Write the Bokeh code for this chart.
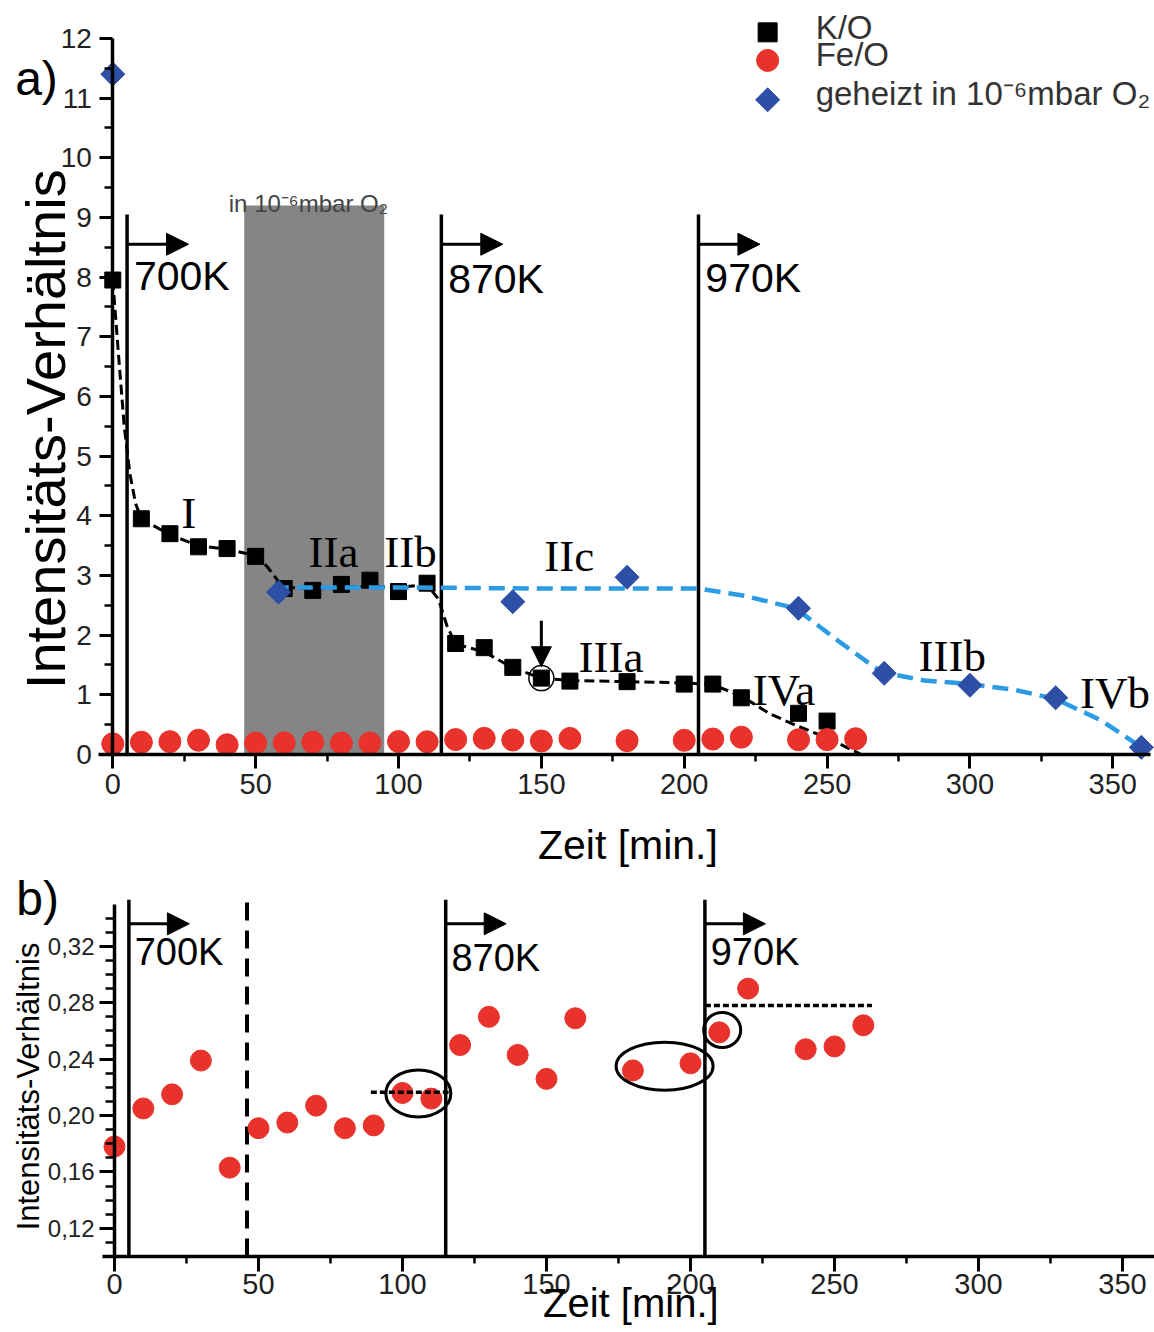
import math
from bokeh.plotting import figure
from bokeh.models import Range1d, FixedTicker, Label, Arrow, NormalHead
from bokeh.layouts import column
from bokeh.embed import file_html
from bokeh.resources import INLINE

# ---------------- data ----------------
time_min = [0, 10, 20, 30, 40, 50, 60, 70, 80, 90, 100, 110, 120, 130, 140,
            150, 160, 180, 200, 210, 220, 240, 250, 260]
fe_o = [0.178, 0.205, 0.215, 0.239, 0.163, 0.191, 0.195, 0.207, 0.191, 0.193,
        0.216, 0.212, 0.250, 0.270, 0.243, 0.226, 0.269, 0.232, 0.237, 0.259,
        0.290, 0.247, 0.249, 0.264]

ko_time = [0, 10, 20, 30, 40, 50, 60, 70, 80, 90, 100, 110, 120, 130, 140,
           150, 160, 180, 200, 210, 220, 240, 250]
ko_ratio = [7.95, 3.95, 3.70, 3.48, 3.45, 3.32, 2.78, 2.75, 2.85, 2.92, 2.73,
            2.87, 1.86, 1.79, 1.46, 1.28, 1.23, 1.22, 1.18, 1.18, 0.95, 0.69, 0.56]

o2_time = [0, 58, 140, 180, 240, 270, 300, 330, 360]
o2_ratio = [11.4, 2.72, 2.56, 2.97, 2.45, 1.36, 1.16, 0.95, 0.12]

ko_fit_time = [0, 2, 4, 6, 8, 10, 20, 30, 40, 50, 54, 58, 62, 70, 80, 90, 100,
               110, 114, 117, 120, 130, 140, 150, 160, 180, 200, 210, 220, 230,
               240, 250, 262]
ko_fit = [7.95, 6.7, 5.5, 4.7, 4.2, 3.95, 3.68, 3.5, 3.44, 3.33, 3.15, 2.9, 2.8,
          2.78, 2.8, 2.82, 2.8, 2.85, 2.6, 2.15, 1.85, 1.72, 1.45, 1.28, 1.24,
          1.22, 1.2, 1.17, 0.98, 0.68, 0.47, 0.28, 0.0]

o2_fit_time = [56, 100, 150, 205, 221, 239, 254, 269, 284, 300, 316, 330, 346, 360]
o2_fit = [2.8, 2.8, 2.78, 2.78, 2.66, 2.45, 1.9, 1.38, 1.24, 1.18, 1.08, 0.93,
          0.57, 0.12]

heat_time = [5, 115, 205]
heat_labels = ["700K", "870K", "970K"]
o2_box = [46, 95]          # O2 exposure interval [min]
o2_box_top = 9.2

xa_ticks = [0, 50, 100, 150, 200, 250, 300, 350]
xa_minor = [25, 75, 125, 175, 225, 275, 325]
ya_ticks = list(range(0, 13))
ya_minor = [k + 0.5 for k in range(0, 12)]
yb_ticks = [0.12, 0.16, 0.20, 0.24, 0.28, 0.32]
yb_labels = ["0,12", "0,16", "0,20", "0,24", "0,28", "0,32"]
yb_minor = [0.11, 0.13, 0.14, 0.15, 0.17, 0.18, 0.19, 0.21, 0.22, 0.23, 0.25,
            0.26, 0.27, 0.29, 0.30, 0.31, 0.33, 0.34]

legend_labels = ["K/O", "Fe/O", "geheizt in 10\u207b\u2076mbar O\u2082"]

RED = "#e8322b"
DBLUE = "#2d4fa6"
LBLUE = "#2b9be3"
GREY = "#858585"
SANS = "Liberation Sans"
SERIF = "Liberation Serif"


def style_axis(ax, major, minor, labels, size, tick_out, minor_out, standoff):
    ax.ticker = FixedTicker(ticks=major, minor_ticks=minor)
    ax.major_label_overrides = {t: l for t, l in zip(major, labels)}
    ax.axis_line_width = 3.5
    ax.axis_line_color = "black"
    ax.major_tick_line_width = 3
    ax.minor_tick_line_width = 2.5
    ax.major_tick_out = tick_out
    ax.major_tick_in = 0
    ax.minor_tick_out = minor_out
    ax.minor_tick_in = 0
    ax.major_label_text_font = SANS
    ax.major_label_text_font_size = size
    ax.major_label_text_color = "#222222"
    ax.major_label_standoff = standoff


def lab(p, x, y, text, size, font=SANS, align="left", baseline="middle",
        angle=0, color="black"):
    p.add_layout(Label(x=x, y=y, text=text, text_font=font, text_font_size=size,
                       text_align=align, text_baseline=baseline, angle=angle,
                       text_color=color))


def base_fig(w, h, xr, yr):
    p = figure(width=w, height=h, x_range=Range1d(*xr), y_range=Range1d(*yr),
               output_backend="svg", toolbar_location=None, min_border=0)
    p.outline_line_color = None
    p.grid.visible = False
    p.background_fill_color = "white"
    p.border_fill_color = "white"
    return p


# ---------------- panel a ----------------
pa = base_fig(1154, 870, (-39.3, 364.6), (-1.944, 12.634))
style_axis(pa.xaxis[0], xa_ticks, xa_minor, [str(t) for t in xa_ticks], "29px", 14, 7, 6)
style_axis(pa.yaxis[0], ya_ticks, ya_minor, [str(t) for t in ya_ticks], "28px", 13, 8, 8)
pa.xaxis.fixed_location = 0
pa.yaxis.fixed_location = 0
pa.xaxis.bounds = (-5, 363.2)
pa.yaxis.bounds = (0, 12)

pa.quad(left=[o2_box[0]], right=[o2_box[1]], bottom=[0], top=[o2_box_top],
        fill_color=GREY, line_color=None, level="underlay")
pa.segment(x0=heat_time, y0=[0] * 3, x1=heat_time, y1=[9.05] * 3,
           line_width=3.5, line_color="black")
pa.line(ko_fit_time, ko_fit, line_dash="10 5", line_width=3, line_color="black")
pa.scatter(ko_time, ko_ratio, marker="square", size=16, color="black")
pa.scatter(time_min, fe_o, marker="circle", size=22, color=RED)
pa.line(o2_fit_time, o2_fit, line_dash="16 8", line_width=4.5, line_color=LBLUE)
pa.scatter(o2_time, o2_ratio, marker="square", angle=math.pi / 4, size=17,
           color=DBLUE)

# circle + arrow marking the point at 150 min
pa.scatter([ko_time[15]], [ko_ratio[15]], marker="circle", size=25,
           fill_color=None, line_color="black", line_width=1.5)
pa.add_layout(Arrow(end=NormalHead(size=20, fill_color="black", line_color="black"),
                    x_start=ko_time[15], y_start=2.24, x_end=ko_time[15], y_end=1.47,
                    line_width=3, line_color="black"))

for t, txt, dy in zip(heat_time, heat_labels, [8.02, 7.96, 7.98]):
    pa.add_layout(Arrow(end=NormalHead(size=22, fill_color="black", line_color="black"),
                        x_start=t, y_start=8.55, x_end=t + 21.5, y_end=8.55,
                        line_width=3, line_color="black"))
    lab(pa, t + 2.4, dy, txt, "41px")

roman = [("I", 24, 4.05), ("IIa", 68.5, 3.4), ("IIb", 95, 3.4), ("IIc", 151, 3.32),
         ("IIIa", 163, 1.64), ("IIIb", 282, 1.65), ("IVa", 224, 1.08),
         ("IVb", 338.5, 1.03)]
for txt, x, y in roman:
    lab(pa, x, y, txt, "45px", font=SERIF)

lab(pa, 40.6, 9.23, "in 10\u207b\u2076mbar O\u2082", "24px", color="#444444")

# legend
leg_y = [12.10, 11.63, 10.97]
pa.scatter([229.2], [leg_y[0]], marker="square", size=19, color="black")
pa.scatter([229.2], [leg_y[1]], marker="circle", size=22, color=RED)
pa.scatter([229.2], [leg_y[2]], marker="square", angle=math.pi / 4, size=17, color=DBLUE)
for txt, y in zip(legend_labels, [12.18, 11.73, 11.08]):
    lab(pa, 246, y, txt, "33px", color="#333333")

lab(pa, -26.7, 11.33, "a)", "48px", align="center")
lab(pa, -23.55, 5.45, "Intensitäts-Verhältnis", "56px", align="center",
    angle=math.pi / 2)
lab(pa, 148.8, -1.525, "Zeit [min.]", "41px")

# ---------------- panel b ----------------
pb = base_fig(1154, 460, (-39.58, 361.1), (0.0475, 0.3738))
style_axis(pb.xaxis[0], xa_ticks, xa_minor, [str(t) for t in xa_ticks], "29px", 15, 7, 3)
style_axis(pb.yaxis[0], yb_ticks, yb_minor, yb_labels, "24px", 15, 9, 5)
pb.xaxis.fixed_location = 0.10
pb.yaxis.fixed_location = 0
pb.xaxis.bounds = (-4, 361.1)
pb.yaxis.bounds = (0.10, 0.35)

pb.segment(x0=heat_time, y0=[0.10] * 3, x1=heat_time, y1=[0.353] * 3,
           line_width=3.5, line_color="black")
pb.segment(x0=[o2_box[0]], y0=[0.10], x1=[o2_box[0]], y1=[0.353],
           line_width=4, line_color="black", line_dash="18 10")
pb.scatter(time_min, fe_o, marker="circle", size=21, color=RED)

for t, txt, dy in zip(heat_time, heat_labels, [0.316, 0.312, 0.316]):
    pb.add_layout(Arrow(end=NormalHead(size=22, fill_color="black", line_color="black"),
                        x_start=t, y_start=0.336, x_end=t + 21, y_end=0.336,
                        line_width=3, line_color="black"))
    lab(pb, t + 2.0, dy, txt, "38px")

# level lines and ellipses
pb.segment(x0=[89, 205], y0=[0.2165, 0.278], x1=[116, 263], y1=[0.2165, 0.278],
           line_width=3.5, line_color="black", line_dash="6 3")
pb.ellipse(x=[105.5, 191, 211], y=[0.2157, 0.235, 0.2607], width=[65, 97, 37],
           height=[47, 48, 35], width_units="screen", height_units="screen",
           fill_color=None, line_color="black", line_width=3)

lab(pb, -26.7, 0.354, "b)", "48px", align="center")
lab(pb, -29.9, 0.2206, "Intensitäts-Verhältnis", "31px", align="center",
    angle=math.pi / 2)
lab(pb, 148.8, 0.0667, "Zeit [min.]", "40px")

layout = column(pa, pb, spacing=0)
open("out.html", "w").write(file_html(layout, INLINE))
